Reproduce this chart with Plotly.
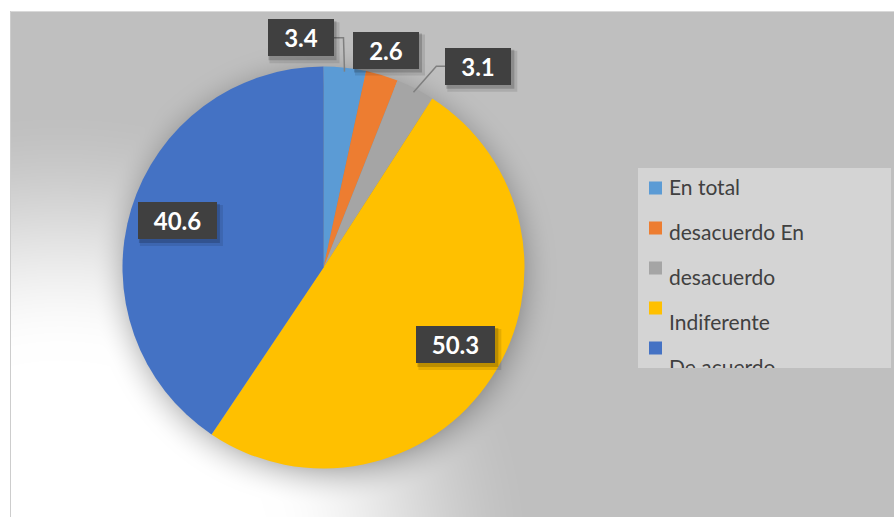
import math, zlib, struct, base64
import numpy as np
import plotly.graph_objects as go

# ---------------- data ----------------
labels = ["En total", "desacuerdo En", "desacuerdo", "Indiferente", "De acuerdo"]
values = [3.4, 2.6, 3.1, 50.3, 40.6]
value_text = ["3.4", "2.6", "3.1", "50.3", "40.6"]
colors = ["#5B9BD5", "#ED7D31", "#A5A5A5", "#FFC000", "#4472C4"]

# ---------------- layout / style ----------------
W, H = 894, 517
CX, CY, R = 323.5, 267.5, 201          # pie centre / radius in px
label_radius = [1.12, 1.12, 1.12, 0.77, 0.77]
label_nudge = [(-47, -6), (-3, -2), (52, -1), (3, -8), (2, -2)]
label_leader = [True, False, True, False, False]
box_w = [66, 66, 66, 79, 79]
box_h = 37
FONT = "Lato"


def px(x):
    return x / W


def py(y):
    return 1 - y / H


# ---------------- background image (gradient + pie shadow) ----------------
def png_gray(arr):
    h, w = arr.shape
    raw = b"".join(b"\x00" + arr[i].tobytes() for i in range(h))

    def chunk(t, d):
        c = struct.pack(">I", len(d)) + t + d
        return c + struct.pack(">I", zlib.crc32(t + d) & 0xFFFFFFFF)

    ihdr = struct.pack(">IIBBBBB", w, h, 8, 0, 0, 0, 0)
    return (b"\x89PNG\r\n\x1a\n" + chunk(b"IHDR", ihdr)
            + chunk(b"IDAT", zlib.compress(raw, 9)) + chunk(b"IEND", b""))


yy, xx = np.mgrid[0:H, 0:W].astype(float)
d = np.hypot((xx - 60) * 0.95, yy - 560)
t = np.clip((d - 200) / 260, 0, 1)
t = t * t * (3 - 2 * t)
base = 255 - (255 - 191) * t
dp = np.hypot(xx - CX, yy - (CY + 6))
s = np.clip(1 - (dp - 188) / 45, 0, 1) ** 2
img = base * (1 - 0.30 * s)
img[:11, :] = 255
img[:, :10] = 255
img[11, 10:] = 217
img[11:, 10] = 205
img = np.clip(img, 0, 255).astype(np.uint8)
bg_src = "data:image/png;base64," + base64.b64encode(png_gray(img)).decode()

fig = go.Figure()

# ---------------- pie ----------------
fig.add_trace(go.Pie(
    labels=labels, values=values, sort=False, direction="clockwise",
    rotation=0, textinfo="none", showlegend=False,
    marker=dict(colors=colors, line=dict(width=0)),
    domain=dict(x=[px(CX - R), px(CX + R)], y=[py(CY + R), py(CY - R)]),
))

# ---------------- custom legend ----------------
LX0, LY0, LX1, LY1 = 638, 168, 891, 368
fig.add_trace(go.Scatter(
    x=[17.5] * len(labels), y=[20 + 40 * i for i in range(len(labels))],
    mode="markers", marker=dict(symbol="square", size=13, color=colors),
    hoverinfo="skip", showlegend=False, xaxis="x", yaxis="y",
))
fig.add_trace(go.Scatter(
    x=[31] * len(labels), y=[22 + 45 * i for i in range(len(labels))],
    mode="text", text=labels, textposition="middle right",
    textfont=dict(family=FONT, size=21, color="#404040"),
    hoverinfo="skip", showlegend=False, xaxis="x", yaxis="y", cliponaxis=True,
))

shapes = [dict(type="rect", xref="paper", yref="paper",
               x0=px(LX0), x1=px(LX1), y0=py(LY1), y1=py(LY0),
               fillcolor="#D4D4D4", line=dict(width=0), layer="below")]
annotations = []

# ---------------- data labels ----------------
total = sum(values)
cum = 0
for i, v in enumerate(values):
    mid = (cum + v / 2) / total * 2 * math.pi
    cum += v
    f = label_radius[i]
    bx = CX + R * f * math.sin(mid) + label_nudge[i][0]
    by = CY - R * f * math.cos(mid) + label_nudge[i][1]
    bw = box_w[i]
    if label_leader[i]:
        ex = CX + R * 0.98 * math.sin(mid)
        ey = CY - R * 0.98 * math.cos(mid)
        if bx < ex:
            end_x = bx + bw / 2
            elb_x = end_x + 10
        else:
            end_x = bx - bw / 2
            elb_x = end_x - 9
        shapes.append(dict(
            type="path", xref="paper", yref="paper", layer="above",
            path=f"M{px(ex)},{py(ey)} L{px(elb_x)},{py(by)} L{px(end_x)},{py(by)}",
            line=dict(color="#7F7F7F", width=1.5)))
    for (ox, oy, grow, a) in [(4, 5, 2, 0.10), (2, 3, 1, 0.18)]:
        shapes.append(dict(
            type="rect", xref="paper", yref="paper", layer="above",
            x0=px(bx - bw / 2 + ox - grow), x1=px(bx + bw / 2 + ox + grow),
            y0=py(by + box_h / 2 + oy + grow), y1=py(by - box_h / 2 + oy - grow),
            fillcolor=f"rgba(0,0,0,{a})", line=dict(width=0)))
    annotations.append(dict(
        x=px(bx), y=py(by), xref="paper", yref="paper",
        xanchor="center", yanchor="middle", showarrow=False,
        text=f"<b>{value_text[i]}</b>", width=bw, height=box_h,
        bgcolor="#404040", borderpad=0, borderwidth=0,
        font=dict(family=FONT, size=24, color="white"),
    ))

fig.update_layout(
    width=W, height=H, margin=dict(l=0, r=0, t=0, b=0),
    paper_bgcolor="white", plot_bgcolor="rgba(0,0,0,0)",
    showlegend=False,
    images=[dict(source=bg_src, xref="paper", yref="paper", x=0, y=1,
                 sizex=1, sizey=1, xanchor="left", yanchor="top",
                 sizing="stretch", layer="below")],
    xaxis=dict(domain=[px(LX0), px(LX1)], range=[0, LX1 - LX0],
               visible=False, fixedrange=True),
    yaxis=dict(domain=[py(LY1), py(LY0)], range=[LY1 - LY0, 0],
               visible=False, fixedrange=True),
    shapes=shapes, annotations=annotations,
)

fig.write_html("out.html")
